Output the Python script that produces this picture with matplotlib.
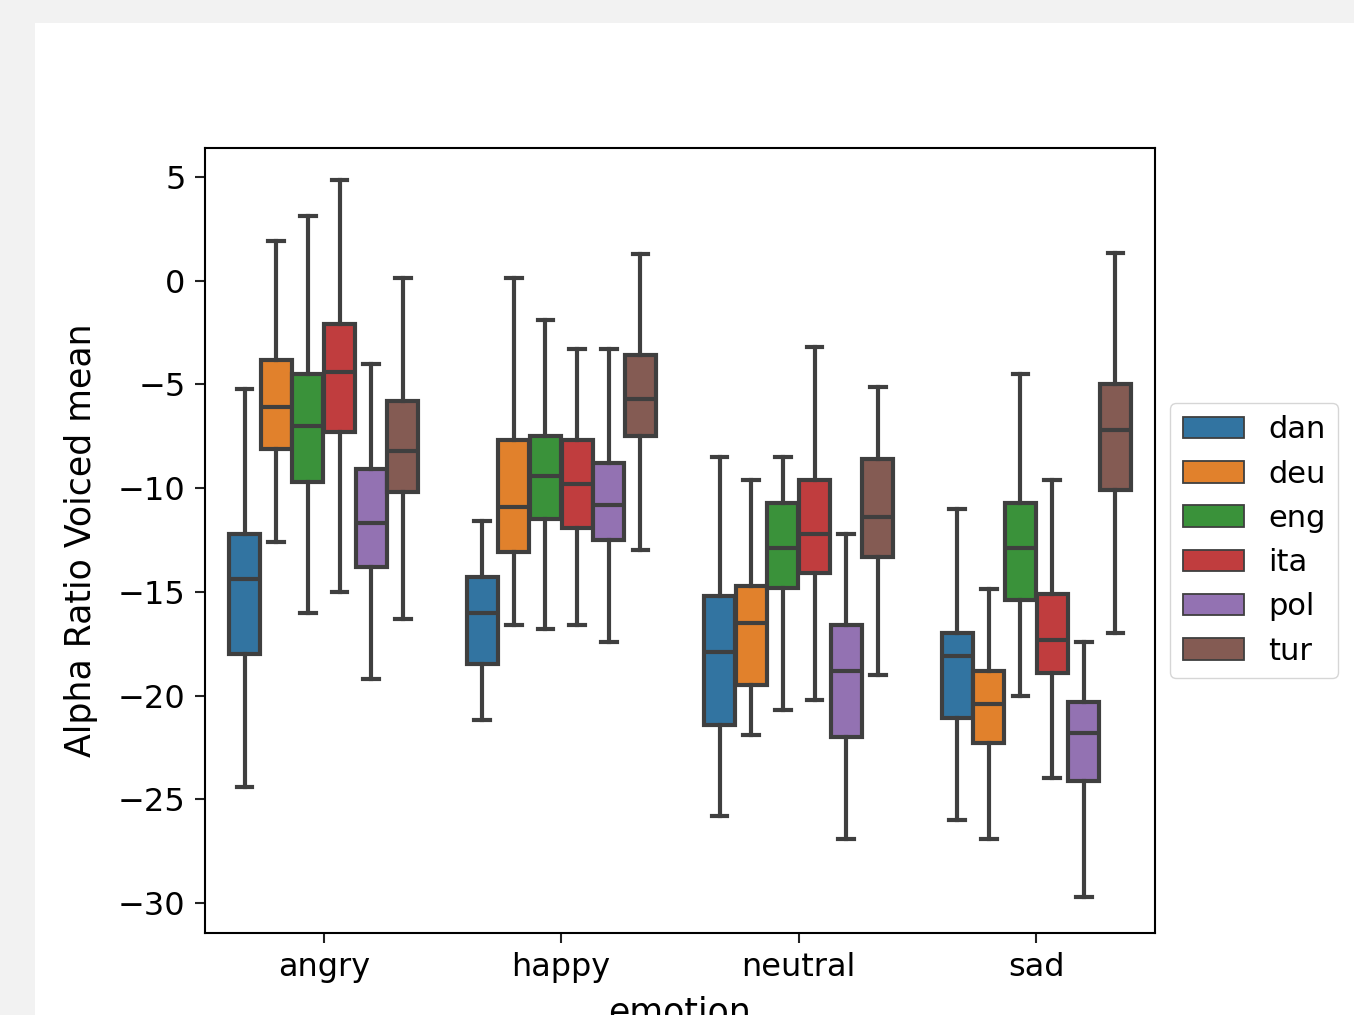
import matplotlib
matplotlib.use('Agg')
import matplotlib.pyplot as plt
from matplotlib.patches import Patch, Rectangle

emotions = ['angry', 'happy', 'neutral', 'sad']
languages = ['dan', 'deu', 'eng', 'ita', 'pol', 'tur']
colors = ['#3274a1', '#e1812c', '#3a923a', '#c03d3e', '#9372b2', '#845b53']

# one row per emotion, one column per language
whisker_low = [
    [-24.4, -12.6, -16.0, -15.0, -19.2, -16.3],
    [-21.2, -16.6, -16.8, -16.6, -17.4, -13.0],
    [-25.8, -21.9, -20.7, -20.2, -26.9, -19.0],
    [-26.0, -26.9, -20.0, -24.0, -29.7, -17.0],
]
q1 = [
    [-18.0, -8.1, -9.7, -7.3, -13.8, -10.2],
    [-18.5, -13.1, -11.5, -11.9, -12.5, -7.5],
    [-21.4, -19.5, -14.8, -14.1, -22.0, -13.3],
    [-21.1, -22.3, -15.4, -18.9, -24.1, -10.1],
]
median = [
    [-14.4, -6.1, -7.0, -4.4, -11.7, -8.2],
    [-16.0, -10.9, -9.4, -9.8, -10.8, -5.7],
    [-17.9, -16.5, -12.9, -12.2, -18.8, -11.4],
    [-18.1, -20.4, -12.9, -17.3, -21.8, -7.2],
]
q3 = [
    [-12.2, -3.8, -4.5, -2.1, -9.1, -5.8],
    [-14.3, -7.7, -7.5, -7.7, -8.8, -3.6],
    [-15.2, -14.7, -10.7, -9.6, -16.6, -8.6],
    [-17.0, -18.8, -10.7, -15.1, -20.3, -5.0],
]
whisker_high = [
    [-5.2, 1.9, 3.1, 4.85, -4.0, 0.15],
    [-11.6, 0.15, -1.9, -3.3, -3.3, 1.3],
    [-8.5, -9.6, -8.5, -3.2, -12.2, -5.1],
    [-11.0, -14.85, -4.5, -9.6, -17.4, 1.35],
]

LINE = '#3f3f3f'
LW = 3.0
FS = 23

fig = plt.figure(figsize=(13.54, 10.15), dpi=100)
fig.patch.set_facecolor('#f2f2f2')
# white page area of the screenshot
fig.patches.append(Rectangle((35 / 1354, 0), 1, 1 - 23 / 1015, transform=fig.transFigure,
                             facecolor='white', edgecolor='none', zorder=-1))

ax = fig.add_axes([205 / 1354, 1 - 933 / 1015, 950 / 1354, 785 / 1015])

n = len(languages)
step = 0.8 / n
for e in range(len(emotions)):
    for h in range(n):
        stats = [{
            'whislo': whisker_low[e][h], 'q1': q1[e][h], 'med': median[e][h],
            'q3': q3[e][h], 'whishi': whisker_high[e][h], 'fliers': [],
        }]
        pos = e - 0.4 + step * (h + 0.5)
        ax.bxp(stats, positions=[pos], widths=step * 0.98, patch_artist=True,
               showfliers=False, manage_ticks=False,
               boxprops=dict(facecolor=colors[h], edgecolor=LINE, linewidth=LW),
               medianprops=dict(color=LINE, linewidth=LW),
               whiskerprops=dict(color=LINE, linewidth=LW),
               capprops=dict(color=LINE, linewidth=LW))

ax.set_xlim(-0.5, 3.5)
ax.set_ylim(-31.45, 6.4)
ax.set_xticks(range(len(emotions)))
ax.set_xticklabels(emotions)
ax.set_yticks([5, 0, -5, -10, -15, -20, -25, -30])
ax.tick_params(labelsize=FS, length=7, width=1.5, color='#222222', pad=7)
for s in ax.spines.values():
    s.set_linewidth(1.5)
ax.set_xlabel('emotion', fontsize=25, labelpad=9)
ax.set_ylabel('Alpha Ratio Voiced mean', fontsize=25, labelpad=14)

handles = [Patch(facecolor=c, edgecolor=LINE, linewidth=1.3) for c in colors]
ax.legend(handles, languages, loc='center left', bbox_to_anchor=(1, 0.5), fontsize=22)

fig.savefig('out.png', dpi=100, facecolor=fig.get_facecolor())
